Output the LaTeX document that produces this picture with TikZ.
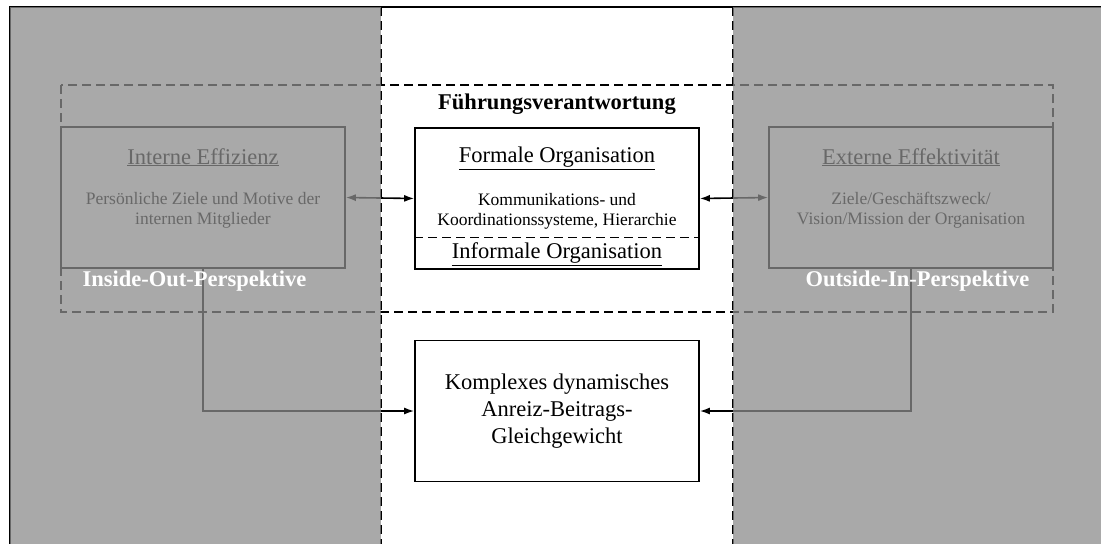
\documentclass[tikz,border=0pt]{standalone}
\usepackage{fontspec}
\setmainfont{Liberation Serif}
\usetikzlibrary{arrows.meta,positioning}

\tikzset{
	box/.style={draw, line width=1.6pt, minimum width=284pt, minimum height=141pt, inner sep=0pt},
	title/.style={font=\fontsize{22.5}{27}\selectfont},
	body/.style={font=\fontsize{17.5}{19.5}\selectfont, align=center},
	big/.style={font=\fontsize{22.5}{27}\selectfont, align=center},
	both/.style={{Latex[length=10pt,width=7pt]}-{Latex[length=10pt,width=7pt]}, line width=1.6pt},
	into/.style={-{Latex[length=10pt,width=7pt]}, line width=1.6pt},
	dashline/.style={line width=1.4pt, dash pattern=on 9pt off 5pt},
	shade/.style={fill=black!45, fill opacity=0.75, draw=none},
	persp/.style={white, font=\fontsize{22.5}{27}\selectfont\bfseries}
}

\begin{document}
\begin{tikzpicture}[x=1pt,y=-1pt]
	\useasboundingbox (0,0) rectangle (1101,544);
	% outer frame and column borders
	\draw[line width=1.6pt] (1101,7) -- (10,7) -- (10,544);
	\draw[dashline] (381,7) -- (381,544);
	\draw[dashline] (733,7) -- (733,544);
	\draw[dashline] (61,85) rectangle (1053,312);
	\node[font=\fontsize{22.5}{27}\selectfont\bfseries] (lead) at (557,104) {Führungsverantwortung};
	% boxes
	\node[box] (internal) at (203,197.5) {};
	\node[box] (formal) at (557,198.5) {};
	\node[box] (external) at (911,197.5) {};
	\node[box, big] (balance) at (557,411) {Komplexes dynamisches\\Anreiz-Beitrags-\\Gleichgewicht};
	\node[title] (inttitle) at ([yshift=-31pt]internal.north) {\underline{Interne Effizienz}};
	\node[body] (inttext) at ([yshift=-84pt]internal.north) {Persönliche Ziele und Motive der\\internen Mitglieder};
	\node[title] (formtitle) at ([yshift=-31pt]formal.north) {\underline{Formale Organisation}};
	\node[body] (formtext) at ([yshift=-84pt]formal.north) {Kommunikations- und\\Koordinationssysteme, Hierarchie};
	\draw[dashline] ([yshift=-110pt]formal.north west) coordinate (split) -- (split -| formal.east);
	\node[title] (informal) at ([yshift=-127pt]formal.north) {\underline{Informale Organisation}};
	\node[title] (exttitle) at ([yshift=-31pt]external.north) {\underline{Externe Effektivität}};
	\node[body] (exttext) at ([yshift=-84pt]external.north) {Ziele/Geschäftszweck/\\Vision/Mission der Organisation};
	% connectors
	\draw[both] (internal.east) -- (formal.west);
	\draw[both] (formal.east) -- (external.west);
	\draw[into] (internal.south) |- (balance.west);
	\draw[into] (external.south) |- (balance.east);
	% shaded perspectives
	\fill[shade] (10,7) rectangle (381,544);
	\fill[shade] (733,7) rectangle (1101,544);
	\node[persp] (inside) at (194.5,281) {Inside-Out-Perspektive};
	\node[persp] (outside) at (917.5,281) {Outside-In-Perspektive};
\end{tikzpicture}
\end{document}
